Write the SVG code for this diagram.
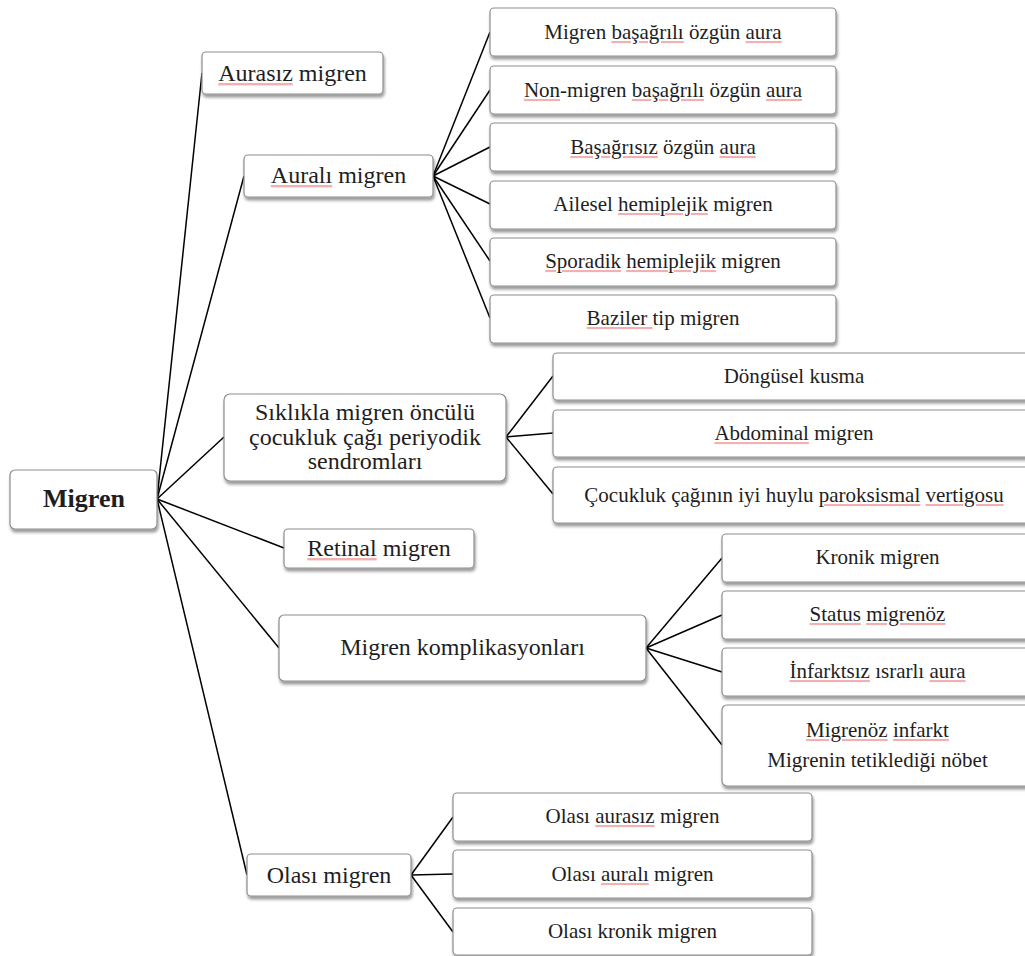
<svg xmlns="http://www.w3.org/2000/svg" width="1025" height="956" viewBox="0 0 1025 956">
  <defs>
    <filter id="shadow" x="-10%" y="-20%" width="130%" height="170%">
      <feDropShadow dx="1" dy="3" stdDeviation="1.8" flood-color="#000" flood-opacity="0.4"/>
    </filter>
  </defs>
  <style>
    .box{fill:#fff;stroke:#8d8d8d;stroke-width:1.2;filter:url(#shadow)}
    .t{font-family:"Liberation Serif","Times New Roman",serif;fill:#1e1e1e;text-anchor:middle}
    .l1{font-size:24px}
    .l2{font-size:21px}
    .root{font-size:26px;font-weight:bold}
    /* spell-check underline: the decoration takes the outer fill, the word keeps the text colour */
    .sp{fill:#f3b0b0;text-decoration:underline}
    .sp tspan{fill:#1e1e1e}
    .conn line{stroke:#000;stroke-width:1.5}
  </style>
  <rect width="1025" height="956" fill="#fff"/>

  <!-- connectors -->
  <g class="conn">
    <!-- root to level 1 -->
    <line x1="157" y1="499" x2="202" y2="73"/>
    <line x1="157" y1="499" x2="244" y2="176"/>
    <line x1="157" y1="499" x2="224" y2="437"/>
    <line x1="157" y1="499" x2="284" y2="548"/>
    <line x1="157" y1="499" x2="279" y2="648"/>
    <line x1="157" y1="499" x2="247" y2="875"/>
    <!-- Auralı migren -->
    <line x1="433" y1="176" x2="490" y2="32"/>
    <line x1="433" y1="176" x2="490" y2="90"/>
    <line x1="433" y1="176" x2="490" y2="147"/>
    <line x1="433" y1="176" x2="490" y2="204"/>
    <line x1="433" y1="176" x2="490" y2="261"/>
    <line x1="433" y1="176" x2="490" y2="318"/>
    <!-- periyodik sendromlar -->
    <line x1="506" y1="437" x2="553" y2="376"/>
    <line x1="506" y1="437" x2="553" y2="433"/>
    <line x1="506" y1="437" x2="553" y2="494"/>
    <!-- komplikasyonlar -->
    <line x1="646" y1="648" x2="722" y2="558"/>
    <line x1="646" y1="648" x2="722" y2="615"/>
    <line x1="646" y1="648" x2="722" y2="672"/>
    <line x1="646" y1="648" x2="722" y2="745"/>
    <!-- olası migren -->
    <line x1="411" y1="875" x2="453" y2="817"/>
    <line x1="411" y1="875" x2="453" y2="874"/>
    <line x1="411" y1="875" x2="453" y2="932"/>
  </g>

  <!-- root -->
  <g id="migren">
    <rect class="box" x="10" y="470" width="147" height="59" rx="5"/>
    <text class="t root" x="84" y="507">Migren</text>
  </g>

  <!-- level 1 -->
  <g id="aurasiz">
    <rect class="box" x="202" y="52" width="181" height="42" rx="4"/>
    <text class="t l1" x="292.5" y="81"><tspan class="sp"><tspan>Aurasız</tspan></tspan> migren</text>
  </g>
  <g id="aurali">
    <rect class="box" x="244" y="155" width="189" height="42" rx="4"/>
    <text class="t l1" x="338.5" y="183"><tspan class="sp"><tspan>Auralı</tspan></tspan> migren</text>
  </g>
  <g id="periyodik">
    <rect class="box" x="224" y="394" width="282" height="87" rx="6"/>
    <text class="t l1" x="365" y="420">Sıklıkla migren öncülü</text>
    <text class="t l1" x="365" y="445">çocukluk çağı periyodik</text>
    <text class="t l1" x="365" y="469">sendromları</text>
  </g>
  <g id="retinal">
    <rect class="box" x="284" y="529" width="190" height="39" rx="4"/>
    <text class="t l1" x="379" y="556"><tspan class="sp"><tspan>Retinal</tspan></tspan> migren</text>
  </g>
  <g id="komplikasyon">
    <rect class="box" x="279" y="615" width="367" height="66" rx="5"/>
    <text class="t l1" x="462.5" y="655">Migren komplikasyonları</text>
  </g>
  <g id="olasi">
    <rect class="box" x="247" y="854" width="164" height="42" rx="4"/>
    <text class="t l1" x="329" y="883">Olası migren</text>
  </g>

  <!-- Auralı migren children -->
  <g id="a1">
    <rect class="box" x="490" y="8" width="346" height="48" rx="4"/>
    <text class="t l2" x="663" y="39">Migren <tspan class="sp"><tspan>başağrılı</tspan></tspan> özgün <tspan class="sp"><tspan>aura</tspan></tspan></text>
  </g>
  <g id="a2">
    <rect class="box" x="490" y="66" width="346" height="48" rx="4"/>
    <text class="t l2" x="663" y="97"><tspan class="sp"><tspan>Non</tspan></tspan>-migren <tspan class="sp"><tspan>başağrılı</tspan></tspan> özgün <tspan class="sp"><tspan>aura</tspan></tspan></text>
  </g>
  <g id="a3">
    <rect class="box" x="490" y="123" width="346" height="48" rx="4"/>
    <text class="t l2" x="663" y="154"><tspan class="sp"><tspan>Başağrısız</tspan></tspan> özgün <tspan class="sp"><tspan>aura</tspan></tspan></text>
  </g>
  <g id="a4">
    <rect class="box" x="490" y="181" width="346" height="48" rx="4"/>
    <text class="t l2" x="663" y="211">Ailesel <tspan class="sp"><tspan>hemiplejik</tspan></tspan> migren</text>
  </g>
  <g id="a5">
    <rect class="box" x="490" y="238" width="346" height="48" rx="4"/>
    <text class="t l2" x="663" y="268"><tspan class="sp"><tspan>Sporadik</tspan></tspan> <tspan class="sp"><tspan>hemiplejik</tspan></tspan> migren</text>
  </g>
  <g id="a6">
    <rect class="box" x="490" y="295" width="346" height="48" rx="4"/>
    <text class="t l2" x="663" y="325"><tspan class="sp"><tspan>Baziler </tspan></tspan>tip migren</text>
  </g>

  <!-- periyodik sendrom children -->
  <g id="p1">
    <rect class="box" x="553" y="353" width="485" height="47" rx="4"/>
    <text class="t l2" x="794" y="383">Döngüsel kusma</text>
  </g>
  <g id="p2">
    <rect class="box" x="553" y="410" width="485" height="47" rx="4"/>
    <text class="t l2" x="794" y="440"><tspan class="sp"><tspan>Abdominal</tspan></tspan> migren</text>
  </g>
  <g id="p3">
    <rect class="box" x="553" y="467" width="485" height="56" rx="4"/>
    <text class="t l2" x="794" y="502">Çocukluk çağının iyi huylu <tspan class="sp"><tspan>paroksismal</tspan></tspan> <tspan class="sp"><tspan>vertigosu</tspan></tspan></text>
  </g>

  <!-- komplikasyon children -->
  <g id="k1">
    <rect class="box" x="722" y="534" width="316" height="48" rx="4"/>
    <text class="t l2" x="877.5" y="564">Kronik migren</text>
  </g>
  <g id="k2">
    <rect class="box" x="722" y="591" width="316" height="48" rx="4"/>
    <text class="t l2" x="877.5" y="621"><tspan class="sp"><tspan>Status</tspan></tspan> <tspan class="sp"><tspan>migrenöz</tspan></tspan></text>
  </g>
  <g id="k3">
    <rect class="box" x="722" y="648" width="316" height="48" rx="4"/>
    <text class="t l2" x="877.5" y="678"><tspan class="sp"><tspan>İnfarktsız</tspan></tspan> ısrarlı <tspan class="sp"><tspan>aura</tspan></tspan></text>
  </g>
  <g id="k4">
    <rect class="box" x="722" y="705" width="316" height="81" rx="5"/>
    <text class="t l2" x="877.5" y="737"><tspan class="sp"><tspan>Migrenöz</tspan></tspan> <tspan class="sp"><tspan>infarkt</tspan></tspan></text>
    <text class="t l2" x="877.5" y="767">Migrenin tetiklediği nöbet</text>
  </g>

  <!-- olası migren children -->
  <g id="o1">
    <rect class="box" x="453" y="793" width="359" height="48" rx="4"/>
    <text class="t l2" x="632.5" y="823">Olası <tspan class="sp"><tspan>aurasız</tspan></tspan> migren</text>
  </g>
  <g id="o2">
    <rect class="box" x="453" y="850" width="359" height="48" rx="4"/>
    <text class="t l2" x="632.5" y="881">Olası <tspan class="sp"><tspan>auralı</tspan></tspan> migren</text>
  </g>
  <g id="o3">
    <rect class="box" x="453" y="908" width="359" height="47" rx="4"/>
    <text class="t l2" x="632.5" y="938">Olası kronik migren</text>
  </g>
</svg>
